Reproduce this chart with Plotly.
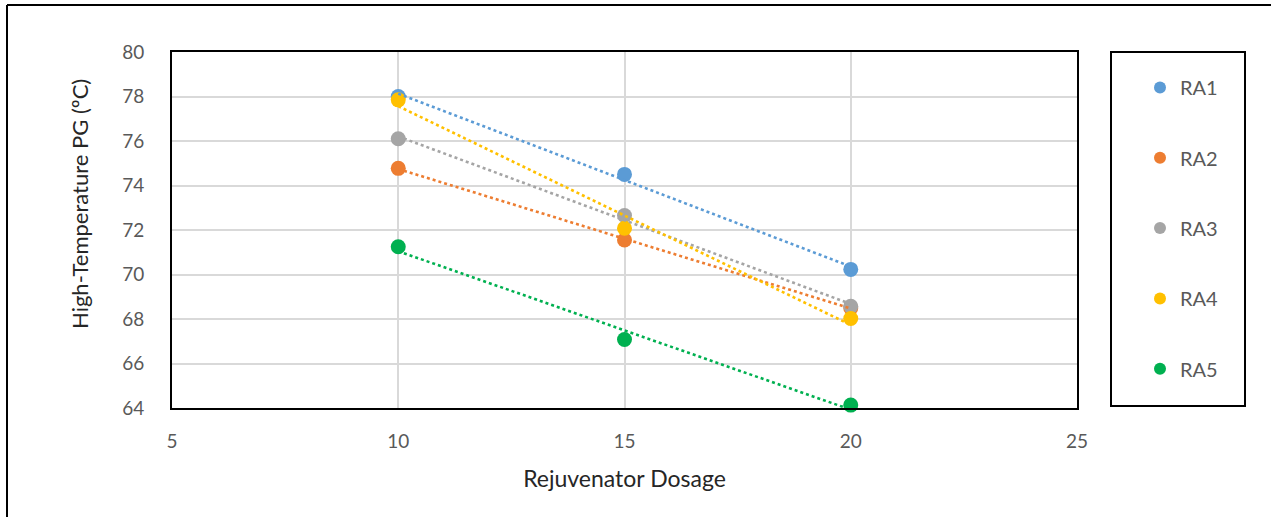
import numpy as np
import plotly.graph_objects as go

# Rejuvenator dosage levels and high-temperature performance grade per rejuvenator
dosage = [10, 15, 20]
series_names = ["RA1", "RA2", "RA3", "RA4", "RA5"]
ra1 = [78.0, 74.5, 70.23]
ra2 = [74.77, 71.55, 68.5]
ra3 = [76.1, 72.65, 68.57]
ra4 = [77.85, 72.08, 68.02]
ra5 = [71.25, 67.08, 64.13]
series_values = [ra1, ra2, ra3, ra4, ra5]
colors = ["#5B9BD5", "#ED7D31", "#A5A5A5", "#FFC000", "#00B050"]

x_ticks = [5, 10, 15, 20, 25]
y_ticks = [64, 66, 68, 70, 72, 74, 76, 78, 80]

FONT = "Lato, 'Open Sans', sans-serif"

# Plot area geometry in pixels
W, H = 1271, 517
L, R, T, B = 172, 1077, 52, 408


def px_x(p):
    return (p - L) / (R - L)


def px_y(p):
    return (B - p) / (B - T)


fig = go.Figure()

# Markers
for i, (name, vals, col) in enumerate(zip(series_names, series_values, colors)):
    fig.add_trace(go.Scatter(
        x=dosage, y=vals, mode="markers", name=name,
        marker=dict(size=15, color=col, line=dict(width=0)),
        legendgroup=name, cliponaxis=False,
    ))

# Linear trendlines (dotted), drawn above the markers
for name, vals, col in zip(series_names, series_values, colors):
    slope, intercept = np.polyfit(dosage, vals, 1)
    xs = np.array([dosage[0], dosage[-1]], dtype=float)
    fig.add_trace(go.Scatter(
        x=xs, y=slope * xs + intercept, mode="lines",
        line=dict(color=col, width=2.6, dash="dot"),
        showlegend=False, hoverinfo="skip", cliponaxis=False,
    ))

shapes = [
    # outer chart frame (top and left edges)
    dict(type="line", xref="paper", yref="paper",
         x0=px_x(7), x1=px_x(W + 5), y0=px_y(5), y1=px_y(5),
         line=dict(color="black", width=2)),
    dict(type="line", xref="paper", yref="paper",
         x0=px_x(7), x1=px_x(7), y0=px_y(5), y1=px_y(H + 5),
         line=dict(color="black", width=2)),
    # legend box
    dict(type="rect", xref="paper", yref="paper",
         x0=px_x(1111), x1=px_x(1245), y0=px_y(406), y1=px_y(52),
         line=dict(color="black", width=2), fillcolor="rgba(0,0,0,0)"),
]

annotations = [
    dict(text="High-Temperature PG (ºC)", textangle=-90,
         xref="paper", yref="paper", x=px_x(79), y=px_y(204),
         xanchor="center", yanchor="middle", showarrow=False,
         font=dict(family=FONT, size=22, color="#262626")),
]

fig.update_layout(
    width=W, height=H,
    margin=dict(l=L, r=W - R, t=T, b=H - B, pad=0),
    paper_bgcolor="white", plot_bgcolor="white",
    font=dict(family=FONT, color="#595959"),
    shapes=shapes, annotations=annotations,
    legend=dict(
        x=px_x(1140), y=px_y(68), xanchor="left", yanchor="top",
        bgcolor="rgba(0,0,0,0)", borderwidth=0,
        font=dict(family=FONT, size=20, color="#595959"),
        tracegroupgap=41.3, itemsizing="constant",
    ),
    xaxis=dict(
        range=[5, 25], tickvals=x_ticks, ticktext=[str(v) for v in x_ticks],
        showgrid=True, gridcolor="#D9D9D9", gridwidth=2,
        showline=True, linecolor="black", linewidth=2, mirror=True,
        ticks="outside", ticklen=15, tickcolor="rgba(0,0,0,0)",
        tickfont=dict(family=FONT, size=19, color="#595959"),
        zeroline=False,
        title=dict(text="Rejuvenator Dosage", standoff=20,
                   font=dict(family=FONT, size=23, color="#262626")),
    ),
    yaxis=dict(
        range=[64, 80], tickvals=y_ticks, ticktext=[str(v) for v in y_ticks],
        showgrid=True, gridcolor="#D9D9D9", gridwidth=2,
        showline=True, linecolor="black", linewidth=2, mirror=True,
        ticks="outside", ticklen=22, tickcolor="rgba(0,0,0,0)",
        tickfont=dict(family=FONT, size=19, color="#595959"),
        zeroline=False,
    ),
)

fig.write_html("out.html")
